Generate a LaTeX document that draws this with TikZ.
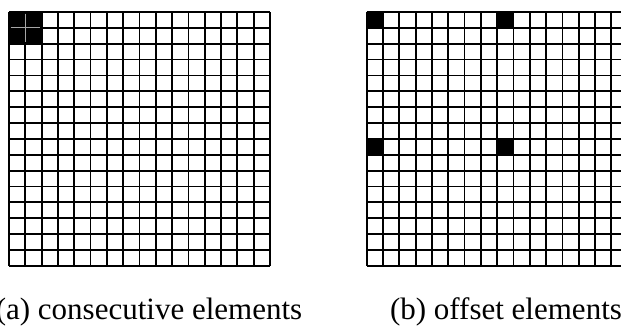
\documentclass[tikz,border=0pt]{standalone}
\usepackage{fontspec}
\setmainfont{Liberation Serif}
\begin{document}
\begin{tikzpicture}[x=1pt,y=-1pt,
  gl/.style={line width=1.8pt,black},
  innerline/.style={line width=0.9pt,white!65!black},
  captext/.style={font=\fontsize{31}{36}\selectfont,anchor=base,inner sep=0pt}]
\useasboundingbox (0,0) rectangle (621,325);
\clip (0,0) rectangle (621,325);
\def\cw{16.3125}
\def\ch{15.8625}
% ---- grid (a) ----
\def\ax{9}
\def\ay{12}
\fill[black] (\ax,\ay) rectangle ({\ax+2*\cw},{\ay+2*\ch});
\foreach \i in {0,...,16} {
  \draw[gl] ({\ax+\i*\cw},\ay) -- ({\ax+\i*\cw},{\ay+16*\ch});
  \draw[gl] (\ax,{\ay+\i*\ch}) -- ({\ax+16*\cw},{\ay+\i*\ch});
}
\draw[innerline] ({\ax+\cw},{\ay+1.5}) -- ({\ax+\cw},{\ay+2*\ch-1.5});
\draw[innerline] ({\ax+1.5},{\ay+\ch}) -- ({\ax+2*\cw-1.5},{\ay+\ch});
% ---- grid (b) ----
\def\bx{366.7}
\foreach \r/\c in {0/0,0/8,8/0,8/8}
  \fill[black] ({\bx+\c*\cw},{\ay+\r*\ch}) rectangle ({\bx+(\c+1)*\cw},{\ay+(\r+1)*\ch});
\foreach \i in {0,...,16} {
  \draw[gl] ({\bx+\i*\cw},\ay) -- ({\bx+\i*\cw},{\ay+16*\ch});
  \draw[gl] (\bx,{\ay+\i*\ch}) -- ({\bx+16*\cw},{\ay+\i*\ch});
}
% ---- captions ----
\node[captext] (capa) at (149,319) {(a) consecutive elements};
\node[captext] (capb) at (506,319) {(b) offset elements};
\end{tikzpicture}
\end{document}
